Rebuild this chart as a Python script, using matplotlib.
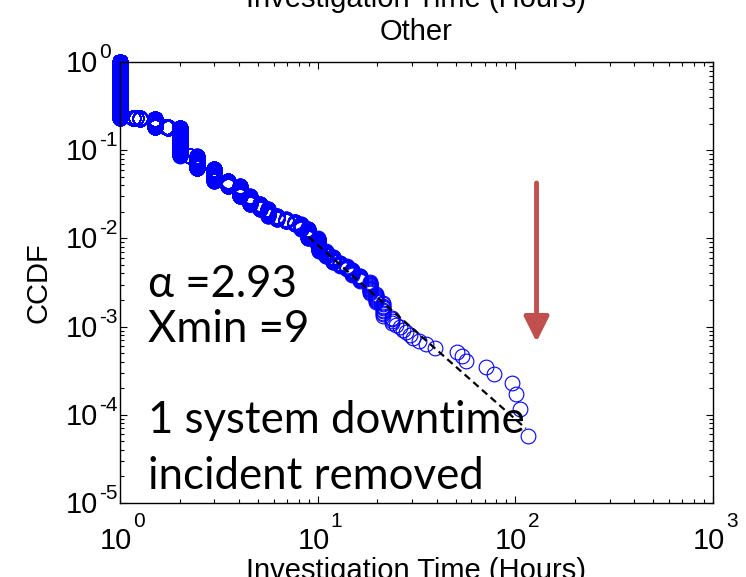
#!/usr/bin/env python3

import numpy as np
import matplotlib
matplotlib.use('Agg')
import matplotlib.pyplot as plt
from matplotlib.transforms import offset_copy

# distinct investigation times (hours) and how many incidents took that long
hours = [1.0, 1.16, 1.20, 1.26, 1.50, 1.70, 1.75, 2.0, 2.26, 2.45, 2.98, 3.53,
         4.04, 4.53, 5.1, 5.6, 6.2, 6.95, 7.65, 8.27, 8.93, 10.0, 10.2, 11.0,
         11.9, 13.0, 14.0, 15.0, 16.3, 18.3, 19.8, 21.4, 23.9,
         25, 26, 27, 28, 29.2, 30.5, 32.7, 35.5, 39, 50.4, 54, 56.6, 71.4,
         78.3, 96.6, 101, 105, 116]
counts = [13328, 35, 35, 35, 765, 35, 35, 1618, 35, 400, 296, 104,
          157, 96, 52, 61, 26, 17, 18, 29, 49, 31, 19, 16,
          16, 8, 7, 11, 10, 15, 9, 10, 4,
          1, 1, 1, 1, 1, 1, 1, 1, 1, 1, 1, 1, 1,
          1, 1, 1, 1, 1]

# power-law fit (alpha = 2.93, xmin = 9)
fit_x = [9, 113]
fit_y = [0.0104, 7.0e-5]

# arrow marking the removed downtime incident
arrow_x = 128
arrow_y = [0.0425, 6.7e-4]

xdecades = [0, 1, 2, 3]
ydecades = [0, -1, -2, -3, -4, -5]

plt.rcParams['font.family'] = ['Liberation Sans']

samples = np.repeat(hours, counts)
n = len(samples)
ccdf = (n - np.arange(n)) / n

fig = plt.figure(figsize=(7.46, 5.77), dpi=100)
ax = fig.add_axes([120 / 746, 74 / 577, 593 / 746, 441 / 577])

ax.plot(samples, ccdf, linestyle='none', marker='o', markersize=10.6,
        markerfacecolor='none', markeredgecolor='#0000ff',
        markeredgewidth=0.8, clip_on=False)
ax.plot(fit_x, fit_y, color='black', linestyle='--', linewidth=1.6,
        dashes=(3.2, 2.0))

ax.annotate('', xy=(arrow_x, arrow_y[1]), xytext=(arrow_x, arrow_y[0]),
            arrowprops=dict(arrowstyle='-|>', color='#c0504d', lw=3.5,
                            mutation_scale=38, shrinkA=0, shrinkB=0))

ax.set_xscale('log')
ax.set_yscale('log')
ax.set_xlim(1, 1000)
ax.set_ylim(1e-5, 1)
ax.set_xticks([10.0 ** d for d in xdecades])
ax.set_yticks([10.0 ** d for d in ydecades])
ax.set_xticklabels([])
ax.set_yticklabels([])
ax.tick_params(which='both', direction='in', top=True, right=True, width=0.8)
ax.tick_params(which='major', length=5)
ax.tick_params(which='minor', length=3)
for s in ax.spines.values():
    s.set_linewidth(1.0)

# tick labels as 10 with a raised exponent, like the original
xt = ax.get_xaxis_transform()
for d in xdecades:
    ax.text(10.0 ** d, 0, '10', fontsize=21, ha='right', va='baseline',
            transform=offset_copy(xt, fig=fig, x=12, y=-46, units='dots'),
            clip_on=False)
    ax.text(10.0 ** d, 0, str(d), fontsize=15, ha='left', va='baseline',
            transform=offset_copy(xt, fig=fig, x=13, y=-24, units='dots'),
            clip_on=False)
yt = ax.get_yaxis_transform()
for d in ydecades:
    ax.text(0, 10.0 ** d, '10', fontsize=21, ha='right', va='center',
            transform=offset_copy(yt, fig=fig, x=-22, y=-2, units='dots'),
            clip_on=False)
    ax.text(0, 10.0 ** d, str(d), fontsize=15, ha='left', va='baseline',
            transform=offset_copy(yt, fig=fig, x=-21, y=4, units='dots'),
            clip_on=False)

fig.text(0.558, 1 - 7 / 577, 'Investigation Time (Hours)', ha='center',
         va='baseline', fontsize=21)
fig.text(0.558, 1 - 40 / 577, 'Other', ha='center', va='baseline', fontsize=21)
fig.text(0.558, -0.003, 'Investigation Time (Hours)', ha='center',
         va='baseline', fontsize=21)
fig.text(38 / 746, 1 - 283 / 577, 'CCDF', rotation=90, ha='center',
         va='center', fontsize=21)

note = dict(family=['Lato', 'DejaVu Sans'], fontsize=31.5, va='baseline')
fig.text(148 / 746, 1 - 297 / 577, 'α =2.93', **note)
fig.text(148 / 746, 1 - 342 / 577, 'Xmin =9', **note)
fig.text(148 / 746, 1 - 433 / 577, '1 system downtime', **note)
fig.text(148 / 746, 1 - 489 / 577, 'incident removed', **note)

fig.savefig('out.png', dpi=100)
plt.close()
